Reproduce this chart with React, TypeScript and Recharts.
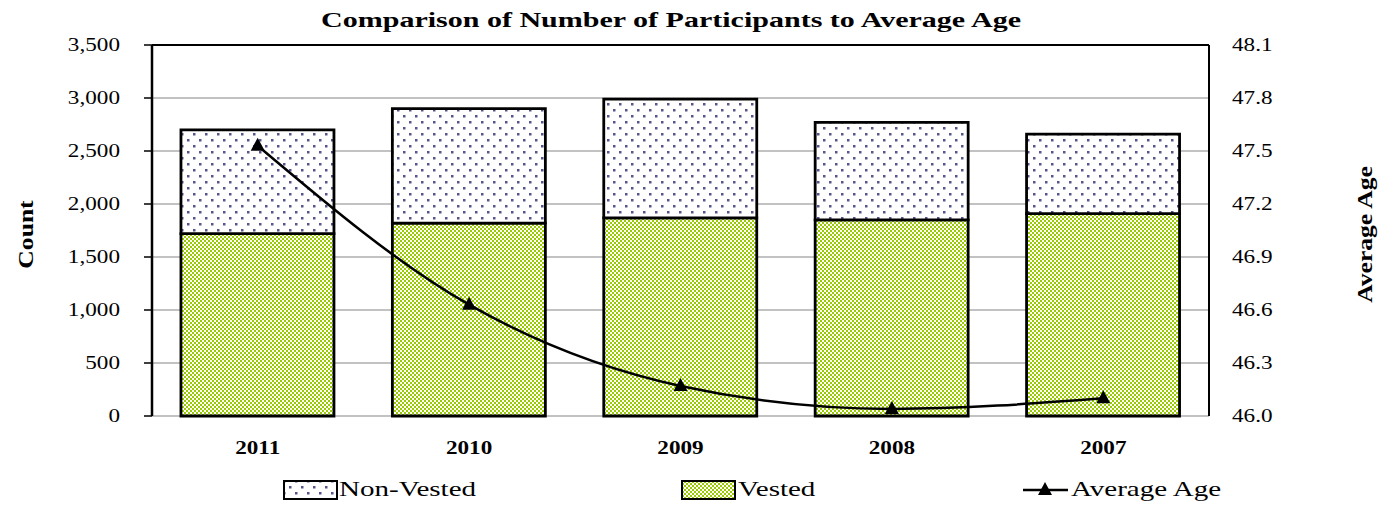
import React from 'react'
import {
  ComposedChart,
  Bar,
  Line,
  XAxis,
  YAxis,
  CartesianGrid,
  ReferenceLine,
  Legend,
  Label,
} from 'recharts'

const years = ['2011', '2010', '2009', '2008', '2007']
const vested = [1720, 1820, 1870, 1850, 1910]
const nonVested = [980, 1080, 1120, 920, 750]
const averageAge = [47.53, 46.63, 46.17, 46.04, 46.1]

const countTicks = [0, 500, 1000, 1500, 2000, 2500, 3000, 3500]
const ageTicks = [46.0, 46.3, 46.6, 46.9, 47.2, 47.5, 47.8, 48.1]
const edgeTicks = [0, 1, 2, 3, 4, 5]

const FONT = '"Liberation Serif", "Times New Roman", serif'
const SX = 1.22 // the original text runs wide
const LEGEND_SX = 1.32

const chartData = years.map((year, i) => ({
  year,
  vested: vested[i],
  nonVested: nonVested[i],
  age: averageAge[i],
}))

function LeftTick({ x, y, payload }: any) {
  return (
    <text
      transform={`translate(${x},${y}) scale(${SX},1)`}
      textAnchor="end"
      dominantBaseline="central"
      style={{ fontFamily: FONT, fontSize: 19 }}
      fill="#000"
    >
      {Number(payload.value).toLocaleString('en-US')}
    </text>
  )
}

function RightTick({ x, y, payload }: any) {
  return (
    <text
      transform={`translate(${x},${y}) scale(${SX},1)`}
      textAnchor="start"
      dominantBaseline="central"
      style={{ fontFamily: FONT, fontSize: 19 }}
      fill="#000"
    >
      {Number(payload.value).toFixed(1)}
    </text>
  )
}

function YearTick({ x, y, payload }: any) {
  return (
    <text
      transform={`translate(${x},${y}) scale(${SX},1)`}
      textAnchor="middle"
      dominantBaseline="central"
      style={{ fontFamily: FONT, fontSize: 19, fontWeight: 'bold' }}
      fill="#000"
    >
      {payload.value}
    </text>
  )
}

function Triangle({ cx, cy }: any) {
  if (cx == null || cy == null) return null
  return <path d={`M${cx},${cy - 8} L${cx + 7},${cy + 5} L${cx - 7},${cy + 5} Z`} fill="#000" />
}

function AxisTitle({ viewBox, value, dx }: any) {
  const cx = viewBox.x + dx
  const cy = viewBox.y + viewBox.height / 2 + 4
  return (
    <text
      transform={`translate(${cx},${cy}) rotate(-90) scale(${SX},1)`}
      textAnchor="middle"
      dominantBaseline="central"
      style={{ fontFamily: FONT, fontSize: 21, fontWeight: 'bold' }}
      fill="#000"
    >
      {value}
    </text>
  )
}

function LegendContent() {
  const textStyle = { fontFamily: FONT, fontSize: 22 }
  return (
    <svg width={1393} height={32}>
      <rect x={284} y={8} width={53} height={18} fill="url(#nonVestedFill)" stroke="#000" strokeWidth={2} />
      <text transform={`translate(339,16) scale(${LEGEND_SX},1)`} dominantBaseline="central" style={textStyle}>Non-Vested</text>
      <rect x={682} y={8} width={53} height={18} fill="url(#vestedFill)" stroke="#000" strokeWidth={2} />
      <text transform={`translate(738,16) scale(${LEGEND_SX},1)`} dominantBaseline="central" style={textStyle}>Vested</text>
      <line x1={1023} y1={17} x2={1068} y2={17} stroke="#000" strokeWidth={2.5} />
      <Triangle cx={1045} cy={17} />
      <text transform={`translate(1071,16) scale(${LEGEND_SX},1)`} dominantBaseline="central" style={textStyle}>Average Age</text>
    </svg>
  )
}

export default function App() {
  return (
    <div style={{ position: 'absolute', left: 0, top: 0, width: 1393, height: 507, background: '#fff' }}>
      <ComposedChart
        width={1393}
        height={507}
        data={chartData}
        margin={{ top: 45, right: 84, bottom: 51, left: 12 }}
        barCategoryGap="13.7%"
      >
        <defs>
          <pattern id="nonVestedFill" width={12} height={12} patternUnits="userSpaceOnUse">
            <rect width={12} height={12} fill="#fff" />
            <rect x={1} y={1} width={2.5} height={2.5} fill="#55558c" />
            <rect x={7} y={7} width={2.5} height={2.5} fill="#55558c" />
          </pattern>
          <pattern id="vestedFill" width={4} height={4} patternUnits="userSpaceOnUse">
            <rect width={4} height={4} fill="#fff" />
            <rect x={0} y={0} width={2} height={2} fill="#99cc00" />
            <rect x={2} y={2} width={2} height={2} fill="#99cc00" />
          </pattern>
        </defs>
        <text
          x={671}
          y={19}
          textAnchor="middle"
          dominantBaseline="central"
          style={{ fontFamily: FONT, fontSize: 22, fontWeight: 'bold' }}
          textLength={700}
          lengthAdjust="spacingAndGlyphs"
        >
          Comparison of Number of Participants to Average Age
        </text>
        <CartesianGrid vertical={false} stroke="#858585" strokeWidth={1.2} yAxisId="count" />
        <XAxis
          xAxisId="edge"
          type="number"
          domain={[0, 5]}
          ticks={edgeTicks}
          tick={false}
          tickSize={7}
          height={0}
          axisLine={{ stroke: '#000', strokeWidth: 2 }}
          tickLine={{ stroke: '#000', strokeWidth: 1.5 }}
          allowDataOverflow
        />
        <XAxis
          xAxisId="cat"
          dataKey="year"
          height={40}
          axisLine={false}
          tickLine={false}
          tickSize={0}
          tickMargin={32}
          tick={<YearTick />}
        />
        <YAxis
          yAxisId="count"
          width={140}
          domain={[0, 3500]}
          ticks={countTicks}
          tick={<LeftTick />}
          tickSize={8}
          tickMargin={24}
          axisLine={{ stroke: '#000', strokeWidth: 2.5 }}
          tickLine={{ stroke: '#000', strokeWidth: 1.5 }}
        >
          <Label content={<AxisTitle value="Count" dx={14} />} />
        </YAxis>
        <YAxis
          yAxisId="age"
          orientation="right"
          width={100}
          domain={[46.0, 48.1]}
          ticks={ageTicks}
          tick={<RightTick />}
          tickSize={0}
          tickMargin={23}
          tickLine={false}
          axisLine={{ stroke: '#000', strokeWidth: 2 }}
        >
          <Label content={<AxisTitle value="Average Age" dx={156} />} />
        </YAxis>
        <ReferenceLine yAxisId="count" xAxisId="cat" y={3500} stroke="#000" strokeWidth={2} />
        <Bar
          xAxisId="cat"
          yAxisId="count"
          dataKey="vested"
          name="Vested"
          stackId="a"
          fill="url(#vestedFill)"
          stroke="#000"
          strokeWidth={2.8}
          isAnimationActive={false}
        />
        <Bar
          xAxisId="cat"
          yAxisId="count"
          dataKey="nonVested"
          name="Non-Vested"
          stackId="a"
          fill="url(#nonVestedFill)"
          stroke="#000"
          strokeWidth={2.8}
          isAnimationActive={false}
        />
        <Line
          xAxisId="cat"
          yAxisId="age"
          dataKey="age"
          name="Average Age"
          type="monotone"
          stroke="#000"
          strokeWidth={2.5}
          dot={<Triangle />}
          activeDot={false}
          isAnimationActive={false}
        />
        <Legend
          layout="horizontal"
          verticalAlign="middle"
          align="center"
          content={<LegendContent />}
          wrapperStyle={{ top: 473, left: 0, width: 1393, height: 32 }}
        />
      </ComposedChart>
    </div>
  )
}
